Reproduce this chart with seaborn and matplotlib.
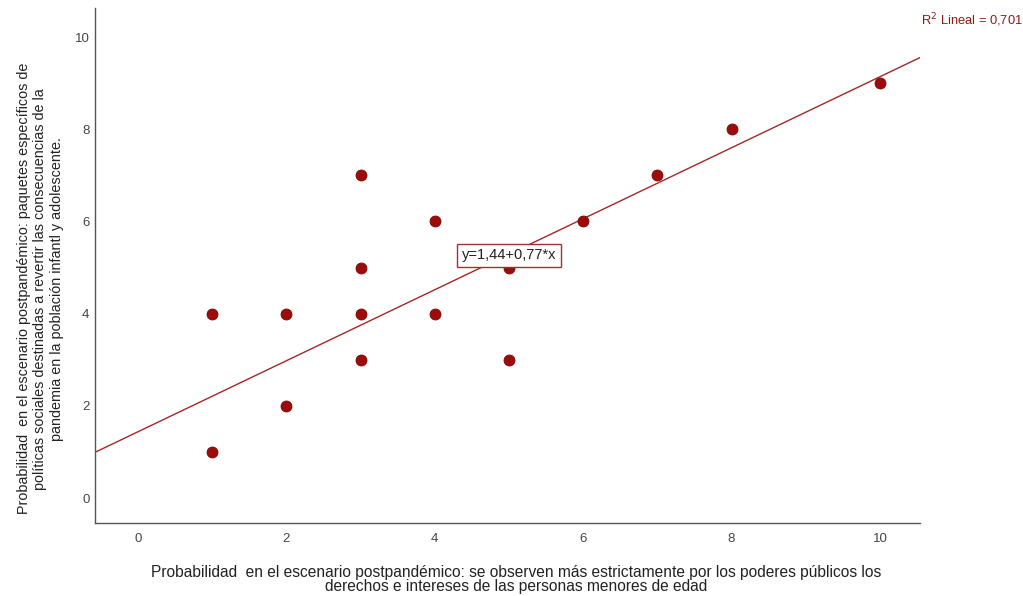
import matplotlib
matplotlib.use("Agg")
import matplotlib.pyplot as plt
import seaborn as sns
import numpy as np
import pandas as pd

x_vals = [1, 1, 2, 2, 3, 3, 3, 3, 4, 4, 5, 5, 6, 7, 8, 10]
y_vals = [1, 4, 2, 4, 3, 4, 5, 7, 4, 6, 3, 5, 6, 7, 8, 9]
intercept = 1.44
slope = 0.77
r2_text = "R$^2$ Lineal = 0,701"
eq_text = "y=1,44+0,77*x"
xticks = [0, 2, 4, 6, 8, 10]
yticks = [0, 2, 4, 6, 8, 10]
xlabel = ("Probabilidad  en el escenario postpandémico: se observen más estrictamente por los poderes públicos los\n"
          "derechos e intereses de las personas menores de edad")
ylabel = ("Probabilidad  en el escenario postpandémico: paquetes específicos de\n"
          "políticas sociales destinadas a revertir las consecuencias de la\n"
          "pandemia en la población infantl y adolescente.")

sns.set_theme(style="white")
plt.rcParams['font.family'] = ['Liberation Sans', 'DejaVu Sans']

df = pd.DataFrame({"x": x_vals, "y": y_vals})
fig = plt.figure(figsize=(10.23, 5.96), dpi=100)
ax = fig.add_axes([0.0929, 0.1225, 0.8064, 0.864])

xlim = (-0.58, 10.54)
ylim = (-0.54, 10.63)
ax.set_xlim(*xlim)
ax.set_ylim(*ylim)

lx = np.array(xlim)
sns.lineplot(x=lx, y=intercept + slope * lx, ax=ax, color="#a02828", linewidth=1.0, zorder=2)
sns.scatterplot(data=df, x="x", y="y", ax=ax, color="#9e0b0b", s=62, edgecolor="#7a0606",
                linewidth=0.6, zorder=3)

ax.set_xticks(xticks)
ax.set_yticks(yticks)
ax.tick_params(axis="both", length=0, labelsize=9.5, colors="#444444")
ax.tick_params(axis="x", pad=7)
ax.tick_params(axis="y", pad=4)
for s in ["top", "right"]:
    ax.spines[s].set_visible(False)
for s in ["left", "bottom"]:
    ax.spines[s].set_color("#555555")
    ax.spines[s].set_linewidth(1.0)

ax.set_xlabel(xlabel, fontsize=11.2, color="#222222", linespacing=0.95)
ax.xaxis.set_label_coords(0.51, -0.081, transform=ax.transAxes)
ax.xaxis.label.set_va("top")
ax.set_ylabel(ylabel, fontsize=10.4, color="#222222", linespacing=1.2)
ax.yaxis.set_label_coords(-0.038, 0.455, transform=ax.transAxes)

ax.text(5.0, 5.27, eq_text, fontsize=10.5, color="#222222", ha="center", va="center", zorder=4,
        bbox=dict(boxstyle="square,pad=0.3", facecolor="white", edgecolor="#a03030", linewidth=1.0))
fig.text(0.9, 0.952, r2_text, fontsize=9.3, color="#8b1a1a", ha="left", va="bottom")

fig.savefig("out.png", dpi=100)
